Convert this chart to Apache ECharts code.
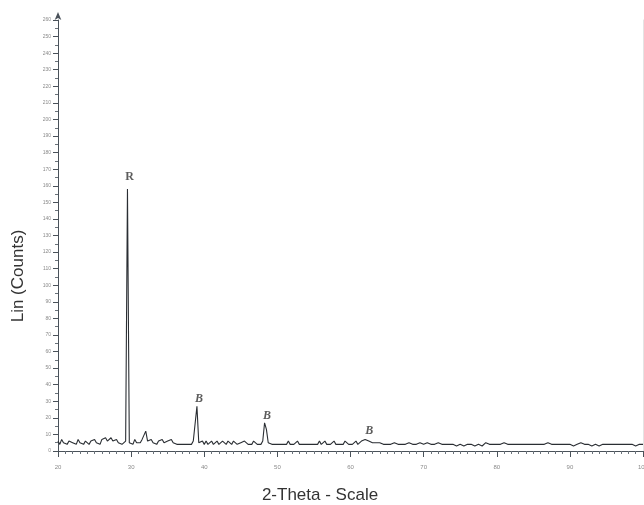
<!DOCTYPE html>
<html>
<head>
<meta charset="utf-8">
<script src="https://cdn.jsdelivr.net/npm/echarts@6/dist/echarts.min.js"></script>
<style>
  html, body { margin: 0; padding: 0; background: #fff; }
  #chart { width: 644px; height: 505px; }
</style>
</head>
<body>
<div id="chart"></div>
<script>
// scan settings (2-theta, degrees)
var scanStart = 20
var scanStep = 0.25

// counts, one value per step, 20.00 .. 100.00
var counts = [
  6,4,7,5,6,4,6,7,5,6,4,7,5,6,4,6,7,4,6,5,       // 20
  7,5,6,4,7,6,8,6,7,8,6,5,7,5,6,4,5,6,158,5,     // 25
  6,4,7,5,6,5,7,6,12,6,5,7,5,6,4,6,5,7,5,6,      // 30
  6,5,7,5,6,4,5,4,5,4,5,4,5,4,6,5,27,5,4,6,      // 35
  4,6,4,5,6,4,5,6,4,5,6,5,4,6,5,4,6,5,4,5,       // 40
  5,4,6,5,4,5,4,6,5,4,5,4,6,17,13,5,6,4,5,4,     // 45
  5,4,5,4,5,4,6,4,5,4,5,6,4,5,4,5,4,5,4,5,       // 50
  4,5,4,6,4,5,6,4,5,4,5,6,4,5,4,5,4,6,5,4,       // 55
  5,4,5,6,4,5,6,5,7,8,6,7,5,4,5,4,5,4,4,5,       // 60
  4,5,4,4,5,4,4,5,4,5,4,4,5,4,4,5,4,4,5,4,       // 65
  4,4,5,4,4,3,4,4,5,4,4,3,4,4,4,5,4,4,3,4,       // 70
  4,4,3,4,4,5,4,4,3,4,4,4,3,4,5,4,4,3,4,4,       // 75
  4,5,4,4,5,4,4,3,4,4,4,3,4,4,4,3,4,5,4,4,       // 80
  4,3,4,4,4,3,4,4,5,4,4,3,4,4,4,3,4,4,4,3,       // 85
  4,4,3,4,4,4,5,4,4,3,4,4,3,4,4,4,3,4,4,4,       // 90
  4,3,4,4,4,3,4,4,4,3,4,4,4,3,4,4,3,4,4,4,       // 95
  4                                              // 100
]

// phase markers
var peakPos = [29.5, 39.0, 48.3, 62.3]
var peakCounts = [158, 27, 17, 8]
var peakText = ['R', 'B', 'B', 'B']

var xTicks = [20, 30, 40, 50, 60, 70, 80, 90, 100]

var scan = counts.map(function (c, i) {
  return [scanStart + i * scanStep, c]
})

var peaks = peakPos.map(function (p, i) {
  var isB = peakText[i] === 'B'
  return {
    value: [p, peakCounts[i]],
    label: {
      formatter: peakText[i],
      fontStyle: isB ? 'italic' : 'normal',
      distance: isB ? 1 : 6,
      offset: [2, 0]
    }
  }
})

var chart = echarts.init(document.getElementById('chart'))

chart.setOption({
  backgroundColor: '#fff',
  animation: false,
  grid: {
    left: 58,
    right: 1,
    top: 20,
    bottom: 54,
    outerBoundsMode: 'none'
  },
  xAxis: {
    type: 'value',
    min: xTicks[0],
    max: xTicks[xTicks.length - 1],
    interval: 10,
    axisLine: { lineStyle: { color: '#4a525a', width: 1 } },
    axisTick: { length: 6, lineStyle: { color: '#4a525a' } },
    minorTick: { show: true, splitNumber: 10, length: 3, lineStyle: { color: '#6a727a' } },
    splitLine: { show: false },
    axisLabel: { fontSize: 6, color: '#8a8a8a', margin: 13 }
  },
  yAxis: [{
    type: 'value',
    min: 0,
    max: 260,
    interval: 10,
    axisLine: {
      show: true,
      symbol: ['none', 'arrow'],
      symbolSize: [5, 8],
      symbolOffset: [0, 8],
      lineStyle: { color: '#4a525a', width: 1 }
    },
    axisTick: { show: true, length: 5, lineStyle: { color: '#4a525a' } },
    minorTick: { show: true, splitNumber: 2, length: 3, lineStyle: { color: '#6a727a' } },
    splitLine: { show: false },
    axisLabel: { fontSize: 5, color: '#8a8a8a', margin: 7 }
  }, {
    type: 'value',
    position: 'right',
    min: 0,
    max: 260,
    axisLine: { show: true, lineStyle: { color: '#e4e4e4' } },
    axisTick: { show: false },
    axisLabel: { show: false },
    splitLine: { show: false }
  }],
  graphic: [{
    type: 'text',
    x: 18,
    y: 276,
    rotation: Math.PI / 2,
    style: {
      text: 'Lin (Counts)',
      font: '17px "Liberation Sans", Arial, sans-serif',
      fill: '#333',
      textAlign: 'center',
      textVerticalAlign: 'middle'
    }
  }, {
    type: 'text',
    x: 320,
    y: 495,
    style: {
      text: '2-Theta - Scale',
      font: '17px "Liberation Sans", Arial, sans-serif',
      fill: '#333',
      textAlign: 'center',
      textVerticalAlign: 'middle'
    }
  }],
  series: [{
    type: 'line',
    data: scan,
    smooth: false,
    showSymbol: false,
    lineStyle: { color: '#2a2e33', width: 1.1 }
  }, {
    type: 'scatter',
    data: peaks,
    symbolSize: 0,
    silent: true,
    label: {
      show: true,
      position: 'top',
      fontFamily: '"Liberation Serif", "DejaVu Serif", serif',
      fontWeight: 'bold',
      fontSize: 12,
      color: '#333'
    }
  }]
})
</script>
</body>
</html>
